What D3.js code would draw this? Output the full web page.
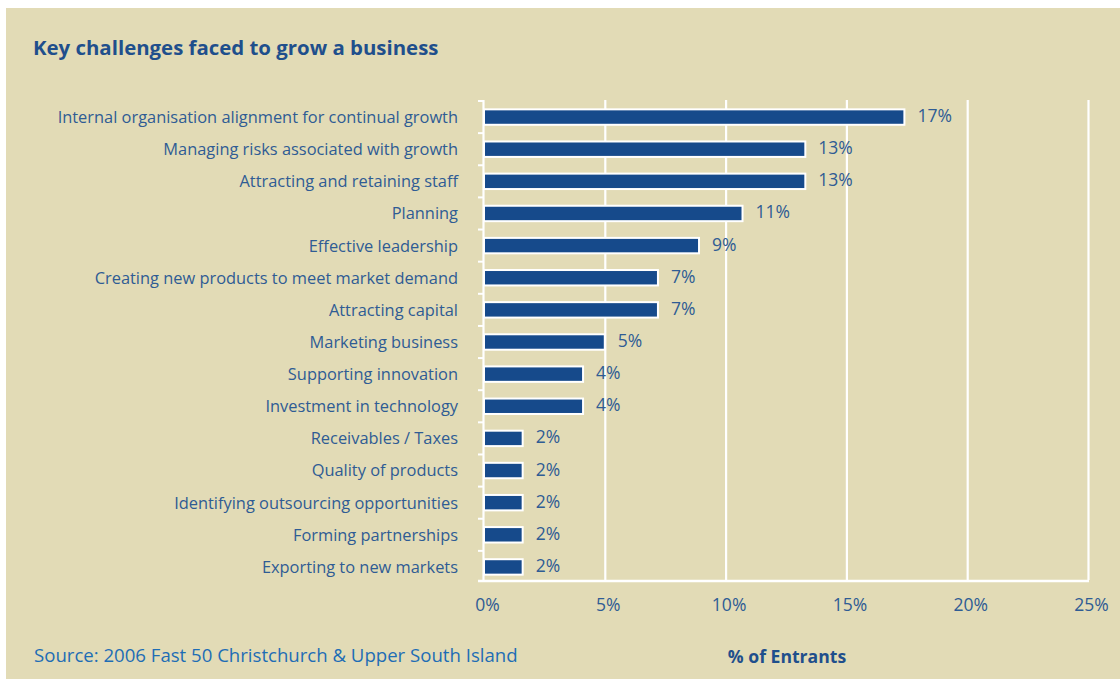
<!DOCTYPE html>
<html>
<head>
<meta charset="utf-8">
<script src="https://cdn.jsdelivr.net/npm/d3@7/dist/d3.min.js"></script>
<style>
  html, body { margin: 0; padding: 0; background: #ffffff; }
  svg { display: block; }
  text { font-family: "Open Sans", "Noto Sans", sans-serif; }
</style>
</head>
<body>
<svg id="chart" width="1120" height="679"></svg>
<script>
// Challenges, top to bottom
const categories = [
  "Internal organisation alignment for continual growth",
  "Managing risks associated with growth",
  "Attracting and retaining staff",
  "Planning",
  "Effective leadership",
  "Creating new products to meet market demand",
  "Attracting capital",
  "Marketing business",
  "Supporting innovation",
  "Investment in technology",
  "Receivables / Taxes",
  "Quality of products",
  "Identifying outsourcing opportunities",
  "Forming partnerships",
  "Exporting to new markets"
];
// Share of entrants (%) naming each challenge
const values = [17.4, 13.3, 13.3, 10.7, 8.9, 7.2, 7.2, 5.0, 4.1, 4.1, 1.6, 1.6, 1.6, 1.6, 1.6];
const xTicks = [0, 5, 10, 15, 20, 25];

const titleText = "Key challenges faced to grow a business";
const sourceText = "Source: 2006 Fast 50 Christchurch & Upper South Island";
const xAxisTitle = "% of Entrants";

const data = categories.map((c, i) => ({ cat: c, val: values[i] }));

const svg = d3.select("#chart");
const bg = "#e2dbb6";
const textBlue = "#2f5c94";
const barBlue = "#164a8b";

// Panel
svg.append("rect").attr("x", 6).attr("y", 8).attr("width", 1114).attr("height", 671).attr("fill", bg);

const plot = { left: 484, right: 1088, top: 100, bottom: 582 };

const x = d3.scaleLinear().domain([0, 25]).range([plot.left, plot.right]);
const y = d3.scaleBand().domain(categories).range([plot.top + 1, plot.bottom + 1])
  .paddingInner(0.52).paddingOuter(0.26);

// Vertical gridlines
const grid = svg.append("g").attr("transform", `translate(0,${plot.top})`)
  .call(d3.axisBottom(x).tickValues(xTicks.slice(1)).tickSize(plot.bottom - 2 - plot.top).tickFormat(""));
grid.select(".domain").remove();
grid.selectAll("line").attr("stroke", "#ffffff").attr("stroke-width", 2.2);

// Left axis line and slot ticks
const gap = y.step() * y.paddingInner() / 2;
const bounds = categories.map(c => y(c) - gap);
svg.append("line").attr("x1", x(0) - 0.5).attr("x2", x(0) - 0.5)
  .attr("y1", plot.top).attr("y2", plot.bottom)
  .attr("stroke", "#ffffff").attr("stroke-width", 2.2);
svg.selectAll("line.slot").data(bounds).join("line").attr("class", "slot")
  .attr("x1", x(0) - 6).attr("x2", x(0)).attr("y1", d => d).attr("y2", d => d)
  .attr("stroke", "#ffffff").attr("stroke-width", 2);
// Baseline
svg.append("line").attr("x1", x(0) - 6).attr("x2", x(25) + 1)
  .attr("y1", plot.bottom - 1).attr("y2", plot.bottom - 1)
  .attr("stroke", "#ffffff").attr("stroke-width", 2.4);

// Bars
svg.selectAll("rect.bar").data(data).join("rect").attr("class", "bar")
  .attr("x", x(0))
  .attr("y", d => y(d.cat))
  .attr("width", d => x(d.val) - x(0))
  .attr("height", y.bandwidth())
  .attr("fill", barBlue)
  .attr("stroke", "#ffffff").attr("stroke-width", 2);

// Value labels
svg.selectAll("text.val").data(data).join("text").attr("class", "val")
  .attr("x", d => x(d.val) + 13)
  .attr("y", d => y(d.cat) + y.bandwidth() / 2 + 5)
  .attr("fill", textBlue).attr("font-size", 17.5)
  .text(d => d3.format(".0f")(d.val) + "%");

// Category labels
const yAxis = svg.append("g").attr("transform", `translate(${plot.left - 26},0)`)
  .call(d3.axisLeft(y).tickSize(0).tickPadding(0));
yAxis.select(".domain").remove();
yAxis.selectAll("text").attr("fill", textBlue).attr("font-size", 16.4)
  .attr("font-family", "'Open Sans', 'Noto Sans', sans-serif")
  .attr("dy", "0.36em");

// X tick labels
const xAxis = svg.append("g").attr("transform", `translate(3,${plot.bottom + 14})`)
  .call(d3.axisBottom(x).tickValues(xTicks).tickSize(0).tickFormat(d => d + "%"));
xAxis.select(".domain").remove();
xAxis.selectAll("text").attr("fill", textBlue).attr("font-size", 17.5)
  .attr("font-family", "'Open Sans', 'Noto Sans', sans-serif");

// Title
svg.append("text").attr("x", 33).attr("y", 55)
  .attr("fill", "#1f4f8c").attr("font-size", 20.4).attr("font-weight", "bold")
  .text(titleText);

// Source
svg.append("text").attr("x", 34).attr("y", 662)
  .attr("fill", "#1e6db5").attr("font-size", 18.6)
  .text(sourceText);

// Axis title
svg.append("text").attr("x", 787).attr("y", 663).attr("text-anchor", "middle")
  .attr("fill", "#1f4f8c").attr("font-size", 17.6).attr("font-weight", "bold")
  .text(xAxisTitle);
</script>
</body>
</html>
